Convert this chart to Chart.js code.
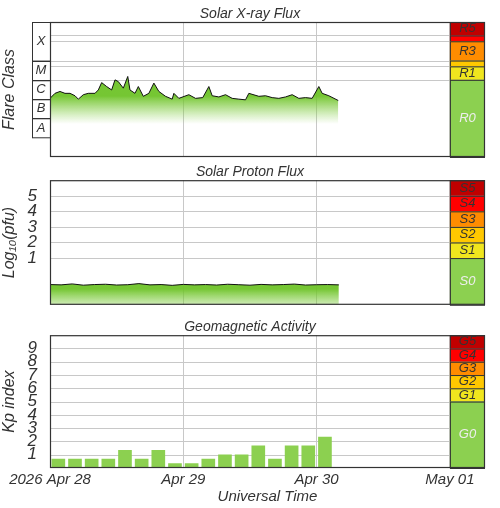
<!DOCTYPE html>
<html><head><meta charset="utf-8">
<script src="https://cdn.jsdelivr.net/npm/chart.js@4"></script>
<style>body{margin:0;background:#fff}canvas{position:absolute;left:0}</style>
</head><body>
<canvas id="c1" style="top:0px" width="500" height="165"></canvas>
<canvas id="c2" style="top:165px" width="500" height="155"></canvas>
<canvas id="c3" style="top:320px" width="500" height="188"></canvas>
<script>
const xrayHours=[0,0.9,1.8,2.7,3.6,4.5,5.1,6.0,6.9,8.1,8.7,9.3,10.2,11.1,11.7,12.3,13.2,14.0,14.4,15.3,15.9,16.8,17.8,18.7,19.6,20.8,22.0,22.3,23.2,25.0,26.2,27.5,28.6,29.2,30.4,31.6,32.8,34.0,35.2,35.8,37.6,38.8,40.0,41.2,42.4,43.6,44.8,46.0,47.2,48.4,49.0,50.2,51.9];
const xrayFlux=[1.1e-6,2.0e-6,2.5e-6,2.0e-6,2.0e-6,1.5e-6,1.0e-6,1.7e-6,2.0e-6,2.0e-6,3.0e-6,7.2e-6,4.5e-6,3.0e-6,1.0e-5,8.1e-6,3.7e-6,1.5e-5,3.0e-6,2.0e-6,4.5e-6,1.4e-6,2.0e-6,6.8e-6,2.5e-6,1.4e-6,1.0e-6,2.0e-6,1.1e-6,1.7e-6,1.1e-6,1.2e-6,4.5e-6,1.5e-6,1.3e-6,1.7e-6,1.1e-6,1.0e-6,0.92e-6,2.0e-6,1.4e-6,1.5e-6,1.2e-6,1.1e-6,1.3e-6,1.7e-6,1.1e-6,1.2e-6,1.1e-6,4.5e-6,2.0e-6,1.5e-6,0.85e-6];
const protonHours=[0,2,4,6,8,10,12,14,16,18,20,22,24,26,28,30,32,34,36,38,40,42,44,46,48,50,52];
const protonLog=[-0.70,-0.72,-0.66,-0.74,-0.70,-0.68,-0.73,-0.71,-0.64,-0.72,-0.70,-0.75,-0.69,-0.72,-0.70,-0.73,-0.68,-0.71,-0.74,-0.69,-0.72,-0.70,-0.67,-0.73,-0.71,-0.70,-0.72];
const kpHours=[1.5,4.5,7.5,10.5,13.5,16.5,19.5,22.5,25.5,28.5,31.5,34.5,37.5,40.5,43.5,46.5,49.5];
const kpValues=[0.67,0.67,0.67,0.67,1.33,0.67,1.33,0.33,0.33,0.67,1,1,1.67,0.67,1.67,1.67,2.33];
const dayTicks=[0,24,48,72];
const dayLabels=['2026 Apr 28','Apr 29','Apr 30','May 01'];
const rBands=[[1e-2,2e-3,'#c00000','R5'],[2e-3,1e-3,'#ff0000',''],[1e-3,1e-4,'#ff8c00','R3'],[1e-4,5e-5,'#ffc800',''],[5e-5,1e-5,'#f0e61e','R1'],[1e-5,1e-9,'#8cd050','R0']];
const sBands=[[6,5,'#c00000','S5'],[5,4,'#ff0000','S4'],[4,3,'#ff8c00','S3'],[3,2,'#ffc800','S2'],[2,1,'#f0e61e','S1'],[1,-2,'#8cd050','S0']];
const gBands=[[10,9,'#c00000','G5'],[9,8,'#ff0000','G4'],[8,7,'#ff8c00','G3'],[7,6,'#ffc800','G2'],[6,5,'#f0e61e','G1'],[5,0,'#8cd050','G0']];
const flareClasses=[[1e-2,1e-4,'X'],[1e-4,1e-5,'M'],[1e-5,1e-6,'C'],[1e-6,1e-7,'B'],[1e-7,1e-8,'A']];
const xrayGrid=[1e-5,5e-5,1e-4,1e-3,2e-3];
const XMAX=72+35*24/133;
const F='"Liberation Sans", Arial, sans-serif';
const TXT='#333';

function panelPlugin(title,bands,extra){
  return {id:'panel',afterDraw(ch){
    const c=ch.ctx,a=ch.chartArea,x=ch.scales.x,y=ch.scales.y;
    const bx0=x.getPixelForValue(72),bx1=a.right;
    c.save();
    bands.forEach(b=>{
      const y0=y.getPixelForValue(b[0]),y1=y.getPixelForValue(b[1]);
      c.fillStyle=b[2];c.fillRect(bx0,y0,bx1-bx0,y1-y0);
      c.strokeStyle='#333';c.lineWidth=1;c.strokeRect(bx0+0.5,y0+0.5,bx1-bx0-1,y1-y0);
      if(b[3]){c.fillStyle=b[3].endsWith('0')?'#eee':'#333';c.font='italic 13px '+F;c.textAlign='center';c.textBaseline='middle';c.fillText(b[3],(bx0+bx1)/2,(y0+y1)/2);}
    });
    c.strokeStyle='#333';c.lineWidth=1.2;c.strokeRect(a.left+0.5,a.top+0.5,a.width-1,a.height-1);
    c.fillStyle=TXT;c.font='italic 14px '+F;c.textAlign='center';c.textBaseline='alphabetic';
    c.fillText(title,(a.left+bx0)/2,a.top-4);
    if(extra)extra(ch);
    c.restore();
  }};
}
function gridPlugin(vals){
  return {id:'hg',beforeDatasetsDraw(ch){
    const c=ch.ctx,a=ch.chartArea,x=ch.scales.x,y=ch.scales.y;
    c.save();c.strokeStyle='#c8c8c8';c.lineWidth=1;
    vals.forEach(v=>{const p=Math.round(y.getPixelForValue(v))+0.5;c.beginPath();c.moveTo(a.left,p);c.lineTo(x.getPixelForValue(72),p);c.stroke();});
    c.restore();
  }};
}
function grad(top,bot){
  return (ctx)=>{const c=ctx.chart.ctx;const g=c.createLinearGradient(0,top,0,bot);g.addColorStop(0,'rgba(110,195,40,0.95)');g.addColorStop(1,'rgba(140,210,80,0)');return g;};
}
function xScale(showLabels){
  return {type:'linear',min:0,max:XMAX,offset:false,
    afterBuildTicks(s){s.ticks=dayTicks.map(v=>({value:v}));},
    afterFit(s){s.height=showLabels?40:0;},
    grid:{color:'#c8c8c8',drawTicks:false,lineWidth:1,offset:false},border:{display:false},
    ticks:{display:showLabels,autoSkip:false,maxRotation:0,padding:3,color:TXT,font:{family:F,size:15,style:'italic'},callback:(v)=>dayLabels[dayTicks.indexOf(v)]},
    title:{display:showLabels,text:'Universal Time',color:TXT,font:{family:F,size:15,style:'italic'},padding:{top:0,bottom:2}}};
}
const yTicks={autoSkip:false,color:TXT,font:{family:F,size:17,style:'italic'},padding:5};
const yTitle=(t)=>({display:true,text:t,color:TXT,font:{family:F,size:16,style:'italic'},padding:0});
const base={responsive:false,animation:false,plugins:{legend:{display:false},tooltip:{enabled:false}}};

new Chart(document.getElementById('c1'),{type:'line',
  data:{datasets:[{data:xrayHours.map((h,i)=>({x:h,y:xrayFlux[i]})),borderColor:'#111',borderWidth:1,pointRadius:0,fill:'start',backgroundColor:grad(96,124)}]},
  options:{...base,layout:{padding:{top:22,bottom:8,right:15,left:0}},
    scales:{x:xScale(false),y:{type:'logarithmic',min:1e-9,max:1e-2,afterFit(s){s.width=50;},grid:{display:false},border:{display:false},ticks:{display:false},
      title:yTitle('Flare Class')}}},
  plugins:[gridPlugin(xrayGrid),panelPlugin('Solar X-ray Flux',rBands,(ch)=>{
    const c=ch.ctx,y=ch.scales.y,l=ch.chartArea.left;
    flareClasses.forEach(f=>{const y0=y.getPixelForValue(f[0]),y1=y.getPixelForValue(f[1]);
      c.strokeStyle='#333';c.lineWidth=1;c.strokeRect(l-18+0.5,Math.round(y0)+0.5,18,y1-y0);
      c.fillStyle=TXT;c.font='italic 13px '+F;c.textAlign='center';c.textBaseline='middle';c.fillText(f[2],l-9,(y0+y1)/2);});
  })]});

new Chart(document.getElementById('c2'),{type:'line',
  data:{datasets:[{data:protonHours.map((h,i)=>({x:h,y:protonLog[i]})),borderColor:'#111',borderWidth:1,pointRadius:0,fill:'start',backgroundColor:grad(124,150)}]},
  options:{...base,layout:{padding:{top:13,bottom:7,right:15,left:0}},
    scales:{x:xScale(false),y:{type:'linear',min:-2,max:6,afterFit(s){s.width=50;},
      afterBuildTicks(s){s.ticks=[1,2,3,4,5].map(v=>({value:v}));},
      grid:{display:false},border:{display:false},ticks:yTicks,title:yTitle('Log₁₀(pfu)')}}},
  plugins:[gridPlugin([1,2,3,4,5]),panelPlugin('Solar Proton Flux',sBands)]});

new Chart(document.getElementById('c3'),{type:'bar',
  data:{datasets:[{data:kpHours.map((h,i)=>({x:h,y:kpValues[i]})),backgroundColor:'#8cd050',barThickness:13}]},
  options:{...base,layout:{padding:{top:12,bottom:0,right:15,left:0}},
    scales:{x:xScale(true),y:{type:'linear',min:0,max:10,afterFit(s){s.width=50;},
      afterBuildTicks(s){s.ticks=[1,2,3,4,5,6,7,8,9].map(v=>({value:v}));},
      grid:{display:false},border:{display:false},ticks:yTicks,title:yTitle('Kp index')}}},
  plugins:[gridPlugin([1,2,3,4,5,6,7,8,9]),panelPlugin('Geomagnetic Activity',gBands)]});
</script>
</body></html>
